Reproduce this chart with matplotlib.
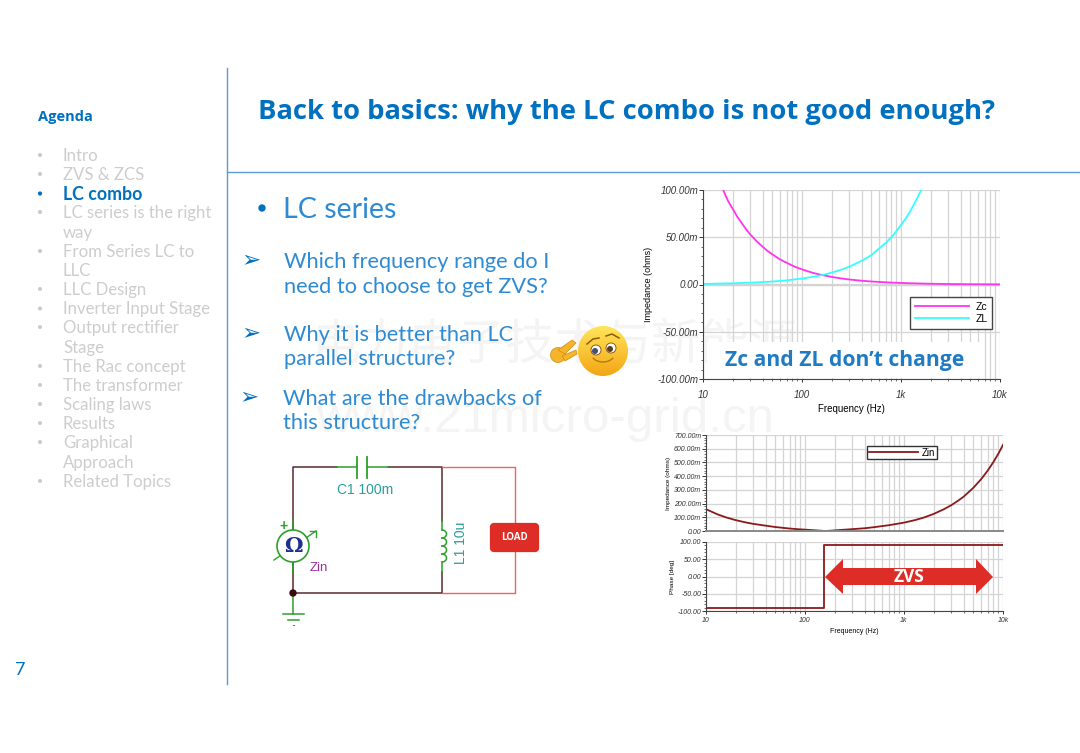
import numpy as np
import matplotlib
matplotlib.use('Agg')
import matplotlib.pyplot as plt
import matplotlib.ticker as ticker
from matplotlib.patches import Circle, FancyBboxPatch, Polygon, Rectangle

W, H = 1080, 753
blue = '#0070C0'
light_blue = '#2E8BD3'
grey_text = '#CDCDCD'
font = 'Lato'
plot_font = 'Liberation Sans'

agenda_items = ['Intro', 'ZVS & ZCS', 'LC combo', 'LC series is the right', 'way', 'From Series LC to', 'LLC',
                'LLC Design', 'Inverter Input Stage', 'Output rectifier', 'Stage', 'The Rac concept',
                'The transformer', 'Scaling laws', 'Results', 'Graphical', 'Approach', 'Related Topics']
agenda_y = [154, 173, 192.5, 211, 231, 250, 269, 288, 307.5, 326, 346, 365, 384, 403, 422, 441, 461, 480]
agenda_nobullet = ['way', 'LLC', 'Stage', 'Approach']

zc_freq = [16, 17, 18, 19, 20, 22, 25, 27, 30, 35, 40, 45, 50, 60, 70, 85, 100, 130, 160, 200, 250, 300, 400, 500, 700,
           1000, 1500, 2000, 3000, 5000, 10000]
zc_val = [100, 93.6, 88, 83.8, 80, 72.3, 64, 59, 53, 45.5, 40, 35.4, 32, 26.5, 23, 18.7, 16, 12.2, 10, 8, 6.4, 5.3, 4,
          3.2, 2.3, 1.6, 1.1, 0.8, 0.5, 0.3, 0.16]
zl_freq = [10, 20, 30, 50, 70, 100, 130, 160, 200, 250, 300, 400, 500, 600, 700, 800, 900, 1000, 1100, 1200, 1300, 1400,
           1500, 1600]
zl_val = [0.6, 1.3, 1.9, 3.1, 4.4, 6.3, 8.2, 10, 12.6, 15.7, 18.8, 25, 31, 38, 44, 50, 56.5, 63, 69, 75, 81.5, 88, 94,
          100]

zin_freq = [10, 13, 16, 20, 25, 30, 40, 50, 60, 70, 85, 100, 120, 140, 159, 180, 200, 250, 300, 400, 500, 700, 1000,
            1300, 1600, 2000, 2500, 3000, 3500, 4000, 5000, 6000, 7000, 8000, 9000, 10000]
zin_val = [159, 122, 99, 79, 63, 52, 39, 29, 23, 18, 13, 10, 6, 3, 0, 2.2, 4.6, 9.5, 13.5, 20, 28, 42, 61, 80, 99,
           125, 157, 188, 220, 250, 314, 377, 440, 503, 565, 628]
phase_freq = [10, 155, 155, 10000]
phase_val = [-90, -90, 90, 90]

ticks_top = [-100, -50, 0, 50, 100]
ticks_top_labels = ['-100.00m', '-50.00m', '0.00', '50.00m', '100.00m']
ticks_zin = [0, 100, 200, 300, 400, 500, 600, 700]
ticks_zin_labels = ['0.00', '100.00m', '200.00m', '300.00m', '400.00m', '500.00m', '600.00m', '700.00m']
ticks_phase = [-100, -50, 0, 50, 100]
ticks_phase_labels = ['-100.00', '-50.00', '0.00', '50.00', '100.00']
freq_ticks = [10, 100, 1000, 10000]
freq_labels = ['10', '100', '1k', '10k']

plt.rcParams['font.family'] = [font, 'DejaVu Sans']
fig = plt.figure(figsize=(W / 100, H / 100), dpi=100, facecolor='white')


def pixel_axes(zorder):
    ax = fig.add_axes([0, 0, 1, 1], zorder=zorder)
    ax.set_xlim(0, W)
    ax.set_ylim(H, 0)
    ax.axis('off')
    ax.patch.set_alpha(0)
    return ax


def plot_axes(left, top, right, bottom):
    ax = fig.add_axes([left / W, 1 - bottom / H, (right - left) / W, (bottom - top) / H], zorder=2)
    ax.patch.set_alpha(0)
    ax.set_xscale('log')
    ax.set_xlim(10, 10000)
    ax.grid(True, which='both', axis='x', color='#D4D4D4', lw=0.9)
    ax.grid(True, which='major', axis='y', color='#D4D4D4', lw=0.9)
    ax.spines['top'].set_visible(False)
    ax.spines['right'].set_visible(False)
    ax.spines['left'].set_color('#444444')
    ax.spines['bottom'].set_color('#444444')
    ax.yaxis.set_minor_locator(ticker.AutoMinorLocator(5))
    ax.set_xticks(freq_ticks)
    ax.tick_params(which='both', color='#333333', direction='out')
    ax.set_axisbelow(True)
    return ax


def style_ticks(ax, yticks, ylabels, size, xlabels=True, xpad=2):
    ax.set_yticks(yticks)
    ax.set_yticklabels(ylabels, family=plot_font, style='italic', size=size, color='#333333')
    ax.set_xticklabels(freq_labels if xlabels else [], family=plot_font, style='italic', size=size, color='#333333')
    ax.xaxis.set_minor_formatter(ticker.NullFormatter())
    ax.tick_params(axis='y', which='major', length=3, pad=0.5, width=0.7)
    ax.tick_params(axis='y', which='minor', length=1.5, width=0.5)
    ax.tick_params(axis='x', which='major', length=2 if xlabels else 0, pad=xpad, width=0.7)
    ax.tick_params(axis='x', which='minor', length=1.2 if xlabels else 0, width=0.5)


back = pixel_axes(0)
front = pixel_axes(5)

# watermark behind everything
back.text(555, 345, '电力电子技术与新能源', family=['Noto Sans CJK SC', 'DejaVu Sans'], size=35, color='#F4F4F4',
          ha='center', va='center')
back.text(545, 419, 'www.21micro-grid.cn', family='Liberation Sans', size=35.5, color='#F4F4F4', ha='center',
          va='center')

# slide frame
back.plot([227, 227], [68, 684], color='#5B9BD5', lw=1)
back.plot([227, 1080], [172, 172], color='#5B9BD5', lw=1)
back.text(20, 670, '7', color=blue, size=13, ha='center', va='center')

back.text(258, 111.5, 'Back to basics: why the LC combo is not good enough?', color=blue, size=19.75, weight='bold',
          va='center', family='Open Sans')

# agenda column
back.text(38, 116.5, 'Agenda', color=blue, size=10.5, weight='bold', va='center', family='Open Sans')
for item, y in zip(agenda_items, agenda_y):
    active = item == 'LC combo'
    back.text(63, y + 1.5, item, color=blue if active else grey_text, size=12.8 if active else 12.1, va='center',
              weight='bold' if active else 'normal')
    if item not in agenda_nobullet:
        back.add_patch(Circle((40, y + 1), 1.4, color=blue if active else grey_text))

# body text
back.add_patch(Circle((262, 208), 3, color=blue))
back.text(283, 209.5, 'LC series', color=light_blue, size=20.6, va='center')
body_lines = [(284, 261, 'Which frequency range do I'), (284, 286, 'need to choose to get ZVS?'),
              (284, 334, 'Why it is better than LC'), (284, 358, 'parallel structure?'),
              (283, 398, 'What are the drawbacks of'), (283, 422, 'this structure?')]
for x, y, line in body_lines:
    back.text(x, y + 1, line, color=light_blue, size=15.7, va='center')
for x, y in [(251, 261), (251, 334), (249, 398)]:
    back.text(x, y, '➢', color=blue, size=16.5, ha='center', va='center', family='DejaVu Sans')

# circuit schematic
wire = '#5A2A2A'
green = '#2CA02C'
red_wire = '#F26060'
back.plot([293, 293, 337], [530, 467, 467], color=wire, lw=1.1)
back.plot([388, 442, 442], [467, 467, 521], color=wire, lw=1.1)
back.plot([442, 442, 293, 293], [572, 593, 593, 562], color=wire, lw=1.1)
back.plot([442, 515, 515], [467, 467, 523], color=red_wire, lw=1)
back.plot([442, 515, 515], [593, 593, 552], color=red_wire, lw=1)
back.plot([337, 357], [467, 467], color=green, lw=1.1)
back.plot([367, 388], [467, 467], color=green, lw=1.1)
back.plot([357, 357], [457, 478], color=green, lw=1.3)
back.plot([367, 367], [457, 478], color=green, lw=1.3)
back.plot([293, 293], [521, 530], color=green, lw=1.1)
back.plot([293, 293], [562, 572], color=green, lw=1.1)
back.add_patch(Circle((293, 546), 16, fc='white', ec=green, lw=1.2, zorder=3))
back.plot([274, 316], [560, 531], color=green, lw=1, zorder=2)
back.plot([310, 316, 316], [531, 531, 537], color=green, lw=1)
back.text(293, 546, 'Ω', color='#1F2F8F', size=15, ha='center', va='center', weight='bold',
          family='DejaVu Serif', zorder=4)
back.text(283, 526, '+', color=green, size=10, ha='center', va='center', family='Liberation Sans', weight='bold')
back.text(310, 568, 'Zin', color='#9B2D9B', size=9.5, va='center', family='Liberation Sans')
back.text(337, 490, 'C1 100m', color='#2A9D9D', size=10, va='center', family='Liberation Sans')
back.text(461, 543, 'L1 10u', color='#2A9D9D', size=10, rotation=90, ha='center', va='center',
          family='Liberation Sans')
# inductor bumps
back.plot([442, 442], [521, 530], color=green, lw=1.1)
back.plot([442, 442], [562, 572], color=green, lw=1.1)
for y0 in [530, 538, 546, 554]:
    t = np.linspace(-np.pi / 2, np.pi / 2, 20)
    back.plot(442 + 4.5 * np.cos(t), y0 + 4 + 4 * np.sin(t), color=green, lw=1.1)
back.add_patch(Circle((293, 593), 3, color='#3A0A0A', zorder=4))
back.plot([293, 293], [593, 614], color=green, lw=1.1)
back.plot([283, 304], [614, 614], color=green, lw=1.1)
back.plot([288, 299], [620, 620], color=green, lw=1.1)
back.plot([293, 294], [625, 625], color=green, lw=0.8)
back.add_patch(FancyBboxPatch((493, 526), 43, 23, boxstyle='round,pad=0,rounding_size=1', fc='#DE2C26', ec='#DE2C26',
                              lw=4.5, joinstyle='round', zorder=3))
back.text(514, 538, 'LOAD', color='white', size=7, weight='bold', ha='center', va='center', zorder=4,
          family='Open Sans')

# top chart
ax_top = plot_axes(703, 190, 1000, 379)
ax_top.plot(zc_freq, zc_val, color='#FF33F0', lw=1.3, label='Zc')
ax_top.plot(zl_freq, zl_val, color='#33FFFF', lw=1.3, label='ZL')
ax_top.set_ylim(-100, 100)
ax_top.axhline(0, color='#D4D4D4', lw=1.6, zorder=1)
style_ticks(ax_top, ticks_top, ticks_top_labels, 7, xpad=5.6)
ax_top.set_xlabel('Frequency (Hz)', family=plot_font, size=7, labelpad=3)
ax_top.set_ylabel('Impedance (ohms)', family=plot_font, size=6.5, labelpad=3)
ax_top.legend(loc='center', bbox_to_anchor=((951 - 703) / 297, 1 - (313 - 190) / 189), fancybox=False,
              framealpha=1, edgecolor='#444444', prop={'family': plot_font, 'size': 7.5}, handlelength=5.2,
              labelspacing=0.2, borderpad=0.45, handletextpad=0.6)

# Zin magnitude
ax_zin = plot_axes(706, 435, 1003, 531)
ax_zin.plot(zin_freq, zin_val, color='#8B1A1A', lw=1.3, label='Zin')
ax_zin.set_ylim(0, 700)
ax_zin.spines['bottom'].set_color('#888888')
ax_zin.spines['bottom'].set_linewidth(1.4)
style_ticks(ax_zin, ticks_zin, ticks_zin_labels, 5, xlabels=False)
ax_zin.set_ylabel('Impedance (ohms)', family=plot_font, size=4.6, labelpad=2)
ax_zin.legend(loc='center', bbox_to_anchor=((902 - 706) / 297, 1 - (452.5 - 435) / 96), fancybox=False, framealpha=1,
              edgecolor='#333333', prop={'family': plot_font, 'size': 7}, handlelength=5, borderpad=0.2,
              handletextpad=0.4)

# Zin phase
ax_phase = plot_axes(706, 542, 1003, 611)
ax_phase.plot(phase_freq, phase_val, color='#8B1A1A', lw=1.3)
ax_phase.set_ylim(-100, 100)
style_ticks(ax_phase, ticks_phase, ticks_phase_labels, 5)
ax_phase.set_xlabel('Frequency (Hz)', family=plot_font, size=5, labelpad=3.5)
ax_phase.set_ylabel('Phase [deg]', family=plot_font, size=4.6, labelpad=2)

# callouts over the plots
front.add_patch(Rectangle((707, 342), 273, 36, fc='white', ec='none'))
front.text(845, 360.5, 'Zc and ZL don’t change', color='#1F7BC4', size=15.2, weight='bold', ha='center', va='center',
           family='Open Sans')
front.add_patch(Polygon([(825, 577), (843, 559), (843, 568), (976, 568), (976, 559), (993, 577), (976, 594),
                         (976, 585), (843, 585), (843, 594)], fc='#DE2C26', ec='none'))
front.text(909, 577, 'ZVS', color='white', size=12.5, weight='bold', ha='center', va='center', family='Open Sans')

# emoji
yy, xx = np.mgrid[0:1:64j, 0:1:64j]
shade = np.clip(1 - yy * 0.9, 0, 1)[..., None]
grad = shade * np.array([1.0, 0.9, 0.35]) + (1 - shade) * np.array([0.95, 0.62, 0.05])
img = front.imshow(grad, extent=(578, 628, 376, 326), zorder=6, aspect='auto')
img.set_clip_path(Circle((603, 351), 25, transform=front.transData))
front.set_xlim(0, W)
front.set_ylim(H, 0)
front.add_patch(Circle((596, 350), 5, fc='white', ec='#7A4A10', lw=0.6, zorder=7))
front.add_patch(Circle((611, 348), 5, fc='white', ec='#7A4A10', lw=0.6, zorder=7))
front.add_patch(Circle((595, 351), 3, fc='#46506A', zorder=8))
front.add_patch(Circle((610, 349), 3, fc='#5A4020', zorder=8))
front.plot([587, 593, 599], [344, 339, 338], color='#8A5A10', lw=1.1, zorder=8)
front.plot([606, 612, 619], [336, 334, 338], color='#8A5A10', lw=1.1, zorder=8)
t = np.linspace(0.2 * np.pi, 0.8 * np.pi, 20)
front.plot(603 + 12 * np.cos(t), 353 + 9 * np.sin(t), color='#B5790F', lw=1, zorder=8)
front.add_patch(Circle((558, 355), 7.5, fc='#F5B52A', ec='#D08A10', lw=0.5, zorder=6))
front.add_patch(Polygon([(558, 350), (572, 340), (576, 343), (565, 354)], fc='#F5B52A', ec='#D08A10', lw=0.5,
                        zorder=6))
front.add_patch(Polygon([(562, 356), (576, 350), (577, 354), (565, 361)], fc='#F5B52A', ec='#D08A10', lw=0.5,
                        zorder=6))

fig.savefig('out.png', dpi=100, facecolor='white')
